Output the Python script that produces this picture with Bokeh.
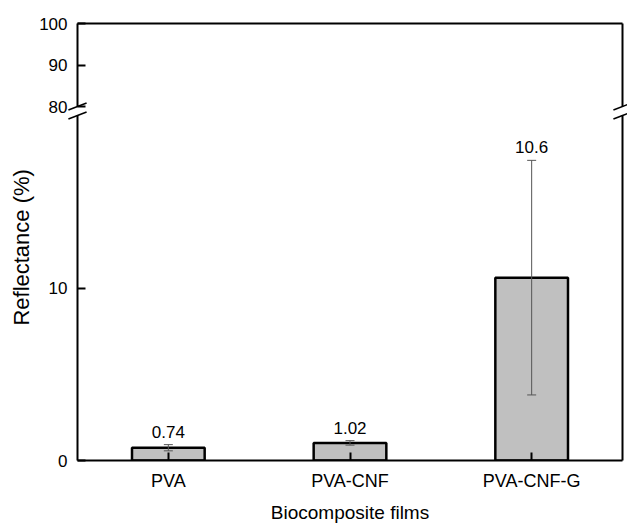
import math
from bokeh.plotting import figure
from bokeh.layouts import column
from bokeh.models import (ColumnDataSource, FactorRange, Range1d, FixedTicker, LinearAxis,
                          Whisker, TeeHead, LabelSet)
from bokeh.core.properties import value
from bokeh.embed import file_html
from bokeh.resources import INLINE

# ---- data ----
categories = ["PVA", "PVA-CNF", "PVA-CNF-G"]
means = [0.74, 1.02, 10.6]
errors = [0.18, 0.13, 6.8]
value_labels = ["0.74", "1.02", "10.6"]
lower_ticks = [0, 10]
upper_ticks = [80, 90, 100]
lower_span = (0, 20)
upper_span = (80, 100)
x_title = "Biocomposite films"
y_title = "Reflectance (%)"

FONT = "Liberation Sans"
W = 627
LEFT, RIGHT, TOP, BOTTOM = 77, 5, 23, 62
LOWER_PX, GAP_PX, UPPER_PX = 348, 9, 83   # frame heights of the two parts and the gap
SLASH_HALF_H = 3.5   # px
SLASH_HALF_W = 0.05  # category units

src = ColumnDataSource(dict(
    cat=categories, mean=means,
    upper=[m + e for m, e in zip(means, errors)],
    lower=[m - e for m, e in zip(means, errors)],
    lab=value_labels,
))

lo0, lo1 = lower_span
up0, up1 = upper_span
lo_scale = LOWER_PX / (lo1 - lo0)   # px per unit
up_scale = UPPER_PX / (up1 - up0)

x_range = FactorRange(*categories)
n = len(categories)


def style_left(ax, ticks):
    ax.ticker = FixedTicker(ticks=ticks)
    ax.axis_line_width = 2
    ax.major_tick_line_width = 2
    ax.major_tick_in = 8
    ax.major_tick_out = 0
    ax.minor_tick_line_color = None
    ax.major_label_standoff = 10
    ax.major_label_text_font = FONT
    ax.major_label_text_font_size = "17px"
    ax.major_label_text_color = "black"


def plain_axis(p, side):
    ax = LinearAxis(ticker=FixedTicker(ticks=[]), axis_line_width=2,
                    major_tick_line_color=None, minor_tick_line_color=None,
                    major_tick_out=0, major_tick_in=0, major_label_standoff=0,
                    major_label_text_font_size="0px")
    p.add_layout(ax, side)


def slashes(p, yc, dy):
    xs = [0, n]
    p.segment(x0=[x - SLASH_HALF_W for x in xs], y0=[yc - dy] * 2,
              x1=[x + SLASH_HALF_W for x in xs], y1=[yc + dy] * 2,
              line_color="black", line_width=1.6, level="overlay")


# ---- upper part (80-100) ----
up = figure(width=W, height=TOP + UPPER_PX + GAP_PX, x_range=x_range,
            y_range=Range1d(up0, up1),
            output_backend="svg", toolbar_location=None,
            min_border_left=LEFT, min_border_right=RIGHT,
            min_border_top=TOP, min_border_bottom=GAP_PX,
            x_axis_location=None)
up.outline_line_color = None
up.grid.grid_line_color = None
style_left(up.yaxis[0], upper_ticks)
plain_axis(up, "above")
plain_axis(up, "right")
slashes(up, up0, SLASH_HALF_H / up_scale)
slashes(up, up0 - GAP_PX / up_scale, SLASH_HALF_H / up_scale)

# ---- lower part (0-20) ----
p = figure(width=W, height=LOWER_PX + BOTTOM, x_range=x_range, y_range=Range1d(lo0, lo1),
           output_backend="svg", toolbar_location=None,
           min_border_left=LEFT, min_border_right=RIGHT,
           min_border_top=0, min_border_bottom=BOTTOM)
p.outline_line_color = None
p.grid.grid_line_color = None
style_left(p.yaxis[0], lower_ticks)
plain_axis(p, "right")

xa = p.xaxis[0]
xa.axis_line_width = 2
xa.major_tick_line_width = 2
xa.major_tick_in = 8
xa.major_tick_out = 0
xa.major_label_standoff = 10
xa.major_label_text_font = FONT
xa.major_label_text_font_size = "18px"
xa.major_label_text_color = "black"
xa.axis_label = x_title
xa.axis_label_text_font = FONT
xa.axis_label_text_font_size = "19px"
xa.axis_label_text_font_style = "normal"
xa.axis_label_text_color = "black"
xa.axis_label_standoff = 8

p.vbar(x="cat", top="mean", width=0.4, source=src,
       fill_color="#c0c0c0", line_color="black", line_width=2.5)

wh = Whisker(base="cat", upper="upper", lower="lower", source=src, level="annotation",
             line_color="#555555", line_width=1,
             upper_head=TeeHead(size=9, line_color="#555555", line_width=1),
             lower_head=TeeHead(size=9, line_color="#555555", line_width=1))
p.add_layout(wh)

p.add_layout(LabelSet(x="cat", y="upper", text="lab", source=src,
                      text_align="center", text_baseline="bottom", y_offset=7,
                      text_font=value(FONT), text_font_size="17px", text_color="black"))

slashes(p, lo1, SLASH_HALF_H / lo_scale)

# y title, centred on the whole broken axis, left of the tick labels
total_px = LOWER_PX + GAP_PX + UPPER_PX
title_y = lo0 + (total_px / 2 - 5) / lo_scale
p.text(x=[0], y=[title_y], text=[y_title], angle=math.pi / 2, x_offset=-56,
       text_align="center", text_baseline="middle", text_font=value(FONT),
       text_font_size="22px", text_color="black", level="overlay")

layout = column(up, p, spacing=0)
open("out.html", "w").write(file_html(layout, INLINE))
